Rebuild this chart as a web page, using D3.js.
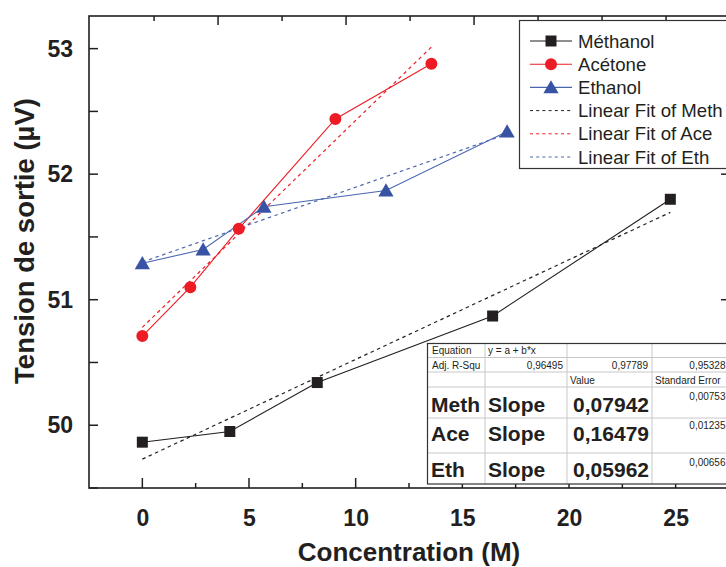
<!DOCTYPE html>
<html><head><meta charset="utf-8">
<script src="https://cdn.jsdelivr.net/npm/d3@7"></script>
<style>
html,body{margin:0;padding:0;background:#fff;}
svg{display:block;font-family:Arial,"Liberation Sans",sans-serif;}
</style></head>
<body>
<svg id="chart" width="726" height="567"></svg>
<script>
// ---------------- DATA ----------------
const seriesNames = ["Méthanol", "Acétone", "Ethanol"];
const fitNames = ["Linear Fit of Meth", "Linear Fit of Ace", "Linear Fit of Eth"];
const methX = [0, 4.1, 8.2, 16.42, 24.75];
const methY = [49.865, 49.95, 50.34, 50.87, 51.80];
const aceX = [0, 2.25, 4.52, 9.05, 13.55];
const aceY = [50.71, 51.10, 51.565, 52.44, 52.88];
const ethX = [0, 2.85, 5.7, 11.42, 17.1];
const ethY = [51.29, 51.40, 51.74, 51.87, 52.34];
const fitIntercepts = [49.73, 50.78, 51.30];
const fitSlopes = [0.07942, 0.16479, 0.05962];
const xTicks = [0, 5, 10, 15, 20, 25];
const xMinorTicks = [2.5, 7.5, 12.5, 17.5, 22.5];
const yTicks = [50, 51, 52, 53];
const yMinorTicks = [49.5, 50.5, 51.5, 52.5];
const topMajorTicks = [3.55, 9.55, 15.55, 21.55];
const topMinorTicks = [0.55, 6.55, 12.55, 18.55, 24.55];
const tableShortNames = ["Meth", "Ace", "Eth"];
const adjR2 = [0.96495, 0.97789, 0.95328];
const stdErrors = [0.00753, 0.01235, 0.00656];
const equationText = "y = a + b*x";
const xTitle = "Concentration (M)";
const yTitle = "Tension de sortie (µV)";

// ---------------- LAYOUT ----------------
const svg = d3.select("#chart");
const L = 89, R = 729, T = 16, B = 488;
const x = d3.scaleLinear().domain([-2.5, 27.5]).range([L, R]);
const y = d3.scaleLinear().domain([49.5, 53.26]).range([B, T]);
const ink = "#231f20";
const colors = ["#231f20", "#ed1c24", "#3953a4"];
const lineColors = ["#231f20", "#ed1c24", "#4a66ad"];
const fmt = v => d3.format(".5f")(v).replace(".", ",");

// fit lines (behind data)
const series = [
  {xs: methX, ys: methY},
  {xs: aceX, ys: aceY},
  {xs: ethX, ys: ethY}
];
const line = d3.line().x(d => x(d[0])).y(d => y(d[1]));
series.forEach((s, i) => {
  const x0 = d3.min(s.xs), x1 = d3.max(s.xs);
  const pts = [[x0, fitIntercepts[i] + fitSlopes[i] * x0], [x1, fitIntercepts[i] + fitSlopes[i] * x1]];
  svg.append("path").attr("d", line(pts)).attr("fill", "none")
    .attr("stroke", lineColors[i]).attr("stroke-width", 1.2).attr("stroke-dasharray", "3.5,3.5");
});
// data lines
series.forEach((s, i) => {
  const pts = s.xs.map((v, k) => [v, s.ys[k]]);
  svg.append("path").attr("d", line(pts)).attr("fill", "none")
    .attr("stroke", lineColors[i]).attr("stroke-width", 1.1);
});
// markers
const sym = [d3.symbolSquare, d3.symbolCircle, d3.symbolTriangle];
const symSize = [121, 113, 100];
series.forEach((s, i) => {
  svg.append("g").selectAll("path").data(s.xs.map((v, k) => [v, s.ys[k]])).join("path")
    .attr("transform", d => `translate(${x(d[0])},${y(d[1]) + (i === 2 ? 1.5 : 0)})`)
    .attr("d", d3.symbol().type(sym[i]).size(symSize[i]))
    .attr("fill", colors[i]);
});

// ---------------- FRAME & AXES ----------------
svg.append("rect").attr("x", L).attr("y", T).attr("width", R - L).attr("height", B - T)
  .attr("fill", "none").attr("stroke", ink).attr("stroke-width", 1.6);

const ax = svg.append("g").attr("stroke", ink).attr("stroke-width", 1.5);
xTicks.forEach(t => ax.append("line").attr("x1", x(t)).attr("x2", x(t)).attr("y1", B).attr("y2", B - 10));
xMinorTicks.forEach(t => ax.append("line").attr("x1", x(t)).attr("x2", x(t)).attr("y1", B).attr("y2", B - 5));
yTicks.forEach(t => ax.append("line").attr("x1", L).attr("x2", L + 9).attr("y1", y(t)).attr("y2", y(t)));
yMinorTicks.forEach(t => ax.append("line").attr("x1", L).attr("x2", L + 9).attr("y1", y(t)).attr("y2", y(t)));
topMajorTicks.forEach(t => ax.append("line").attr("x1", x(t)).attr("x2", x(t)).attr("y1", T).attr("y2", T + 9));
topMinorTicks.forEach(t => ax.append("line").attr("x1", x(t)).attr("x2", x(t)).attr("y1", T).attr("y2", T + 5));
yTicks.forEach(t => ax.append("line").attr("x1", R).attr("x2", R - 8).attr("y1", y(t)).attr("y2", y(t)));

const xAxisG = svg.append("g").attr("transform", `translate(0,${B})`)
  .call(d3.axisBottom(x).tickValues(xTicks).tickSize(0).tickPadding(22).tickFormat(d3.format("d")));
xAxisG.select(".domain").remove();
xAxisG.selectAll("text").attr("font-size", 23).attr("font-weight", "bold").attr("fill", ink)
  .attr("font-family", "Arial, 'Liberation Sans', sans-serif");

const yAxisG = svg.append("g").attr("transform", `translate(${L},0)`)
  .call(d3.axisLeft(y).tickValues(yTicks).tickSize(0).tickPadding(16).tickFormat(d3.format("d")));
yAxisG.select(".domain").remove();
yAxisG.selectAll("text").attr("font-size", 23).attr("font-weight", "bold").attr("fill", ink)
  .attr("font-family", "Arial, 'Liberation Sans', sans-serif");

svg.append("text").attr("x", (L + R) / 2).attr("y", 561).attr("text-anchor", "middle")
  .attr("font-size", 26).attr("font-weight", "bold").attr("fill", ink).text(xTitle);
svg.append("text").attr("transform", "translate(34,241) rotate(-90)").attr("text-anchor", "middle")
  .attr("font-size", 27.5).attr("font-weight", "bold").attr("fill", ink).text(yTitle);

// ---------------- LEGEND ----------------
const lg = svg.append("g");
lg.append("rect").attr("x", 519.5).attr("y", 20.5).attr("width", 230).attr("height", 148)
  .attr("fill", "#fff").attr("stroke", "#333").attr("stroke-width", 1.2);
const rowY = k => 41 + k * 23.2;
seriesNames.forEach((n, i) => {
  lg.append("line").attr("x1", 530).attr("x2", 572).attr("y1", rowY(i)).attr("y2", rowY(i))
    .attr("stroke", lineColors[i]).attr("stroke-width", 1.1);
  lg.append("path").attr("transform", `translate(551,${rowY(i) + (i === 2 ? 1.5 : 0)})`)
    .attr("d", d3.symbol().type(sym[i]).size(symSize[i])).attr("fill", colors[i]);
  lg.append("text").attr("x", 578).attr("y", rowY(i) + 6.5).attr("font-size", 18.6).attr("fill", ink).text(n);
});
fitNames.forEach((n, i) => {
  const k = i + 3;
  lg.append("line").attr("x1", 530).attr("x2", 572).attr("y1", rowY(k)).attr("y2", rowY(k))
    .attr("stroke", lineColors[i]).attr("stroke-width", 1).attr("stroke-dasharray", "3,3.2");
  lg.append("text").attr("x", 578).attr("y", rowY(k) + 6.5).attr("font-size", 18.6).attr("fill", ink).text(n);
});

// ---------------- TABLE ----------------
const tg = svg.append("g");
const cols = [427.5, 485, 567, 652, 760];
const rows = [343.5, 357.5, 372, 387, 418, 453, 484];
tg.append("rect").attr("x", cols[0]).attr("y", rows[0]).attr("width", cols[4] - cols[0]).attr("height", rows[6] - rows[0])
  .attr("fill", "#fff");
cols.slice(1, 4).forEach(c => tg.append("line").attr("x1", c).attr("x2", c).attr("y1", rows[0]).attr("y2", rows[6])
  .attr("stroke", "#c8c8c8").attr("stroke-width", 1));
rows.slice(1, 6).forEach(r => tg.append("line").attr("x1", cols[0]).attr("x2", cols[4]).attr("y1", r).attr("y2", r)
  .attr("stroke", "#c8c8c8").attr("stroke-width", 1));
tg.append("rect").attr("x", cols[0]).attr("y", rows[0]).attr("width", cols[4] - cols[0]).attr("height", rows[6] - rows[0])
  .attr("fill", "none").attr("stroke", "#333").attr("stroke-width", 1.2);

const small = (tx, ty, s, anchor) => tg.append("text").attr("x", tx).attr("y", ty).attr("font-size", 10)
  .attr("fill", ink).attr("text-anchor", anchor || "start").text(s);
small(432, 354, "Equation");
small(488, 354, equationText);
small(432, 368.5, "Adj. R-Squ");
adjR2.forEach((v, i) => small(i < 2 ? cols[i + 2] - 4 : 725.5, 368.5, fmt(v), "end"));
small(570, 383.5, "Value");
small(655, 383.5, "Standard Error");

const bigBase = [411.5, 440.5, 476.5];
const errBase = [400, 429, 466];
tableShortNames.forEach((n, i) => {
  tg.append("text").attr("x", 431).attr("y", bigBase[i]).attr("font-size", 21).attr("font-weight", "bold").attr("fill", ink).text(n);
  tg.append("text").attr("x", 488).attr("y", bigBase[i]).attr("font-size", 21).attr("font-weight", "bold").attr("fill", ink).text("Slope");
  tg.append("text").attr("x", cols[3] - 3).attr("y", bigBase[i]).attr("text-anchor", "end").attr("font-size", 21)
    .attr("font-weight", "bold").attr("fill", ink).text(fmt(fitSlopes[i]));
  small(725.5, errBase[i], fmt(stdErrors[i]), "end");
});
</script>
</body></html>
